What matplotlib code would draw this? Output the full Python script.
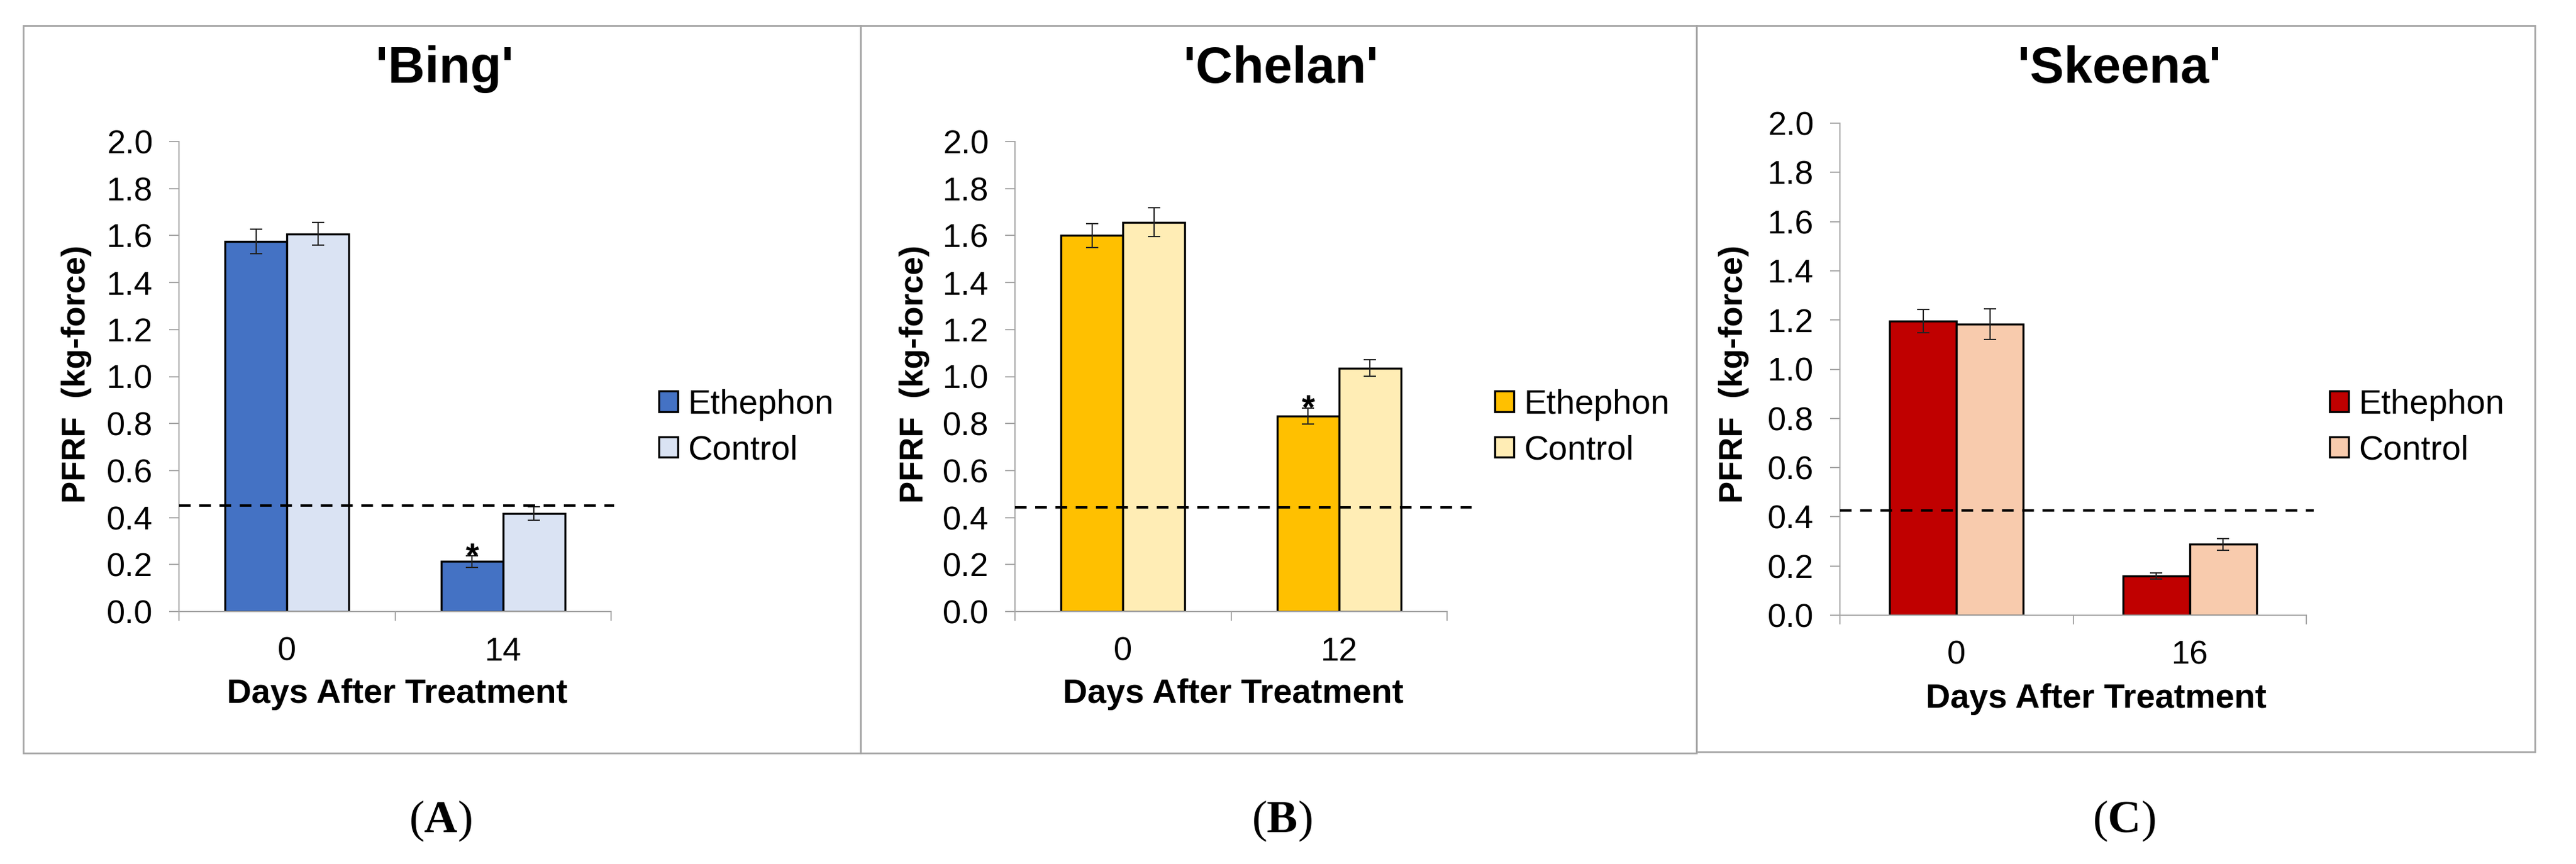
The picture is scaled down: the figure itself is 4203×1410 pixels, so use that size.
import numpy as np
import matplotlib
matplotlib.use("Agg")
import matplotlib.pyplot as plt
from matplotlib.patches import Rectangle

plt.rcParams['font.family'] = ['Liberation Sans', 'DejaVu Sans']
plt.rcParams['mathtext.fontset'] = 'custom'
plt.rcParams['mathtext.rm'] = 'Liberation Serif'
plt.rcParams['mathtext.bf'] = 'Liberation Serif:bold'

# data
cultivars = ["'Bing'", "'Chelan'", "'Skeena'"]
panel_tags = ["A", "B", "C"]
days = [["0", "14"], ["0", "12"], ["0", "16"]]
ethephon_mean = [[1.575, 0.213], [1.600, 0.832], [1.195, 0.160]]
ethephon_err = [[0.051, 0.025], [0.050, 0.035], [0.047, 0.012]]
control_mean = [[1.607, 0.417], [1.657, 1.036], [1.183, 0.288]]
control_err = [[0.048, 0.028], [0.062, 0.035], [0.063, 0.023]]
threshold = [0.45, 0.443, 0.427]
significant = [[False, True], [False, True], [False, False]]

eth_colors = ['#4472C4', '#FFC000', '#C00000']
ctrl_colors = ['#DAE3F3', '#FFEDB5', '#F8CBAD']

W, H = 4203, 1410
fig = plt.figure(figsize=(W / 100, H / 100), dpi=100)


def fx(px):
    return px / W


def fy(py):
    return 1 - py / H


# layout in pixels: axes left, top, right, bottom ; panel box ; text spots
axes_px = [(292, 231, 997, 998), (1656, 231, 2361, 998), (3002, 201, 3763, 1004)]
box_px = [(38, 42, 1404, 1229), (1404, 42, 2768, 1229), (2768, 42, 4136, 1227)]
title_x = [725, 2090, 3458]
ylab_x = [125, 1492, 2829]
xlab_pos = [(648, 1133), (2012, 1133), (3420, 1141)]
legend_x = [1075, 2439, 3801]
dash_end = [1.007, 1.057, 1.016]
tag_x = [718, 2091, 3465]

grey = '#A6A6A6'
w = 0.287

for i in range(3):
    l, t, r, b = axes_px[i]
    ax = fig.add_axes([fx(l), fy(b), (r - l) / W, (b - t) / H])
    x = np.arange(2)
    ekw = dict(ecolor='#222222', elinewidth=1.5, capsize=7, capthick=1.5)
    ax.bar(x - w / 2, ethephon_mean[i], w, yerr=ethephon_err[i], color=eth_colors[i],
           edgecolor='black', linewidth=2.4, error_kw=ekw, label='Ethephon', zorder=2)
    ax.bar(x + w / 2, control_mean[i], w, yerr=control_err[i], color=ctrl_colors[i],
           edgecolor='black', linewidth=2.4, error_kw=ekw, label='Control', zorder=2)

    for j in range(2):
        if significant[i][j]:
            ax.text(x[j] - w / 2, ethephon_mean[i][j] + ethephon_err[i][j] - 0.045, '*',
                    ha='center', va='baseline', fontsize=40, fontweight='bold')

    ax.plot([0, dash_end[i]], [threshold[i], threshold[i]], color='black', lw=2.8,
            ls=(0, (4.9, 3.6)), transform=ax.get_yaxis_transform(), clip_on=False, zorder=3)

    ax.set_xlim(-0.5, 1.5)
    ax.set_ylim(0, 2)
    yt = np.arange(0, 2.01, 0.2)
    ax.set_yticks(yt)
    ax.set_yticklabels([f'{v:.1f}' for v in yt])
    ax.set_xticks([-0.5, 0.5, 1.5])
    ax.set_xticklabels([])
    ax.set_xticks([0, 1], minor=True)
    ax.set_xticklabels(days[i], minor=True)
    ax.tick_params(axis='x', which='minor', length=0, pad=29.5, labelsize=39)
    ax.tick_params(axis='x', which='major', length=11, width=1.4, color=grey)
    ax.tick_params(axis='y', length=11.5, width=1.4, color=grey, pad=19, labelsize=39)
    for s in ['top', 'right']:
        ax.spines[s].set_visible(False)
    for s in ['left', 'bottom']:
        ax.spines[s].set_color(grey)
        ax.spines[s].set_linewidth(1.4)

    ax.legend(loc='center left', bbox_to_anchor=(fx(legend_x[i]), fy(698)),
              bbox_transform=fig.transFigure, frameon=False, fontsize=40,
              handlelength=0.55, handleheight=0.55, handletextpad=0.3,
              labelspacing=0.4, borderpad=0, borderaxespad=0)

    fig.text(fx(title_x[i]), fy(113), cultivars[i], fontsize=60, fontweight='bold',
             ha='center', va='center')
    fig.text(fx(ylab_x[i]), fy(610), 'PFRF  (kg-force)', rotation=90, fontsize=39,
             fontweight='bold', ha='center', va='center')
    fig.text(fx(xlab_pos[i][0]), fy(xlab_pos[i][1]), 'Days After Treatment', fontsize=40,
             fontweight='bold', ha='center', va='center')

    bl, bt, br, bb = box_px[i]
    fig.add_artist(Rectangle((fx(bl), fy(bb)), (br - bl) / W, (bb - bt) / H,
                             transform=fig.transFigure, fill=False, edgecolor=grey, lw=2))

    fig.text(fx(tag_x[i]), fy(1340), '($\\mathbf{' + panel_tags[i] + '}$)',
             family='Liberation Serif', fontsize=54, ha='center', va='center')

fig.savefig('out.png', dpi=100)
